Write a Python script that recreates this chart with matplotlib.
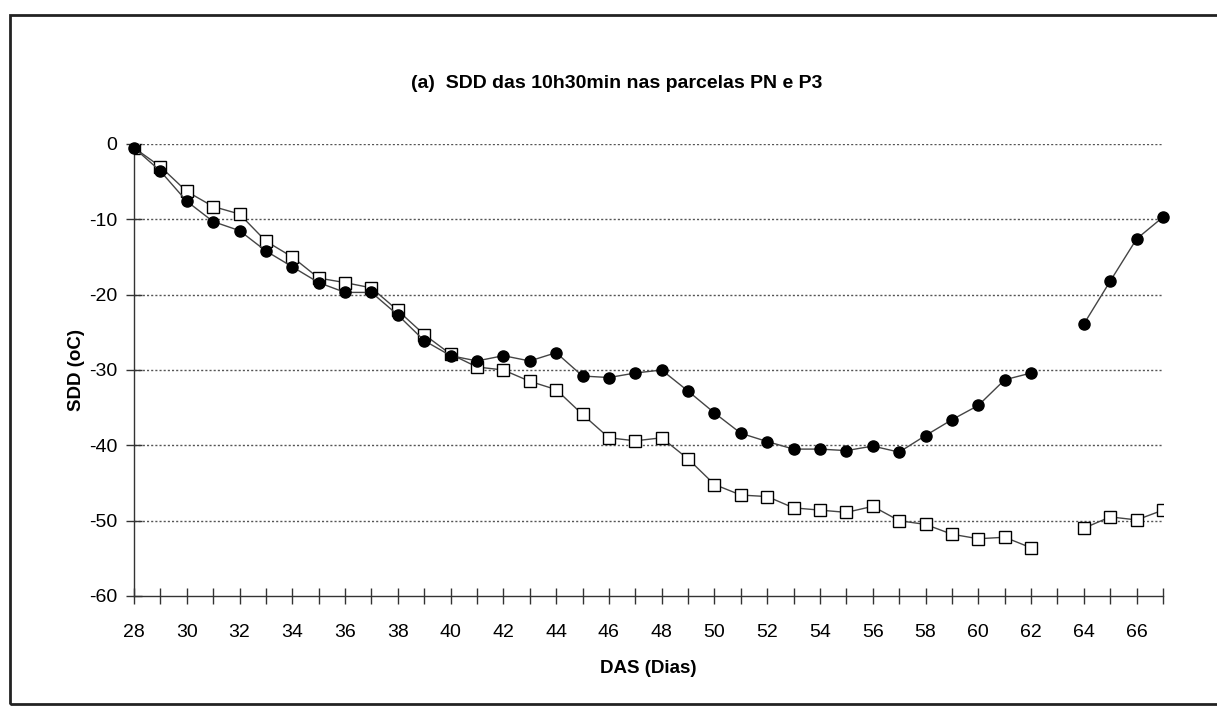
import numpy as np
import matplotlib
matplotlib.use("Agg")
import matplotlib.pyplot as plt
from matplotlib.patches import Rectangle
from matplotlib.ticker import MultipleLocator

plt.rcParams['font.family'] = ['Liberation Sans', 'DejaVu Sans']
plt.rcParams['axes.unicode_minus'] = False

days = list(range(28, 68))
# PN (filled circles); None = missing
pn = [-0.5, -3.6, -7.6, -10.3, -11.5, -14.2, -16.3, -18.4, -19.7, -19.7,
      -22.7, -26.1, -28.1, -28.8, -28.1, -28.8, -27.7, -30.8, -31.0, -30.4,
      -30.0, -32.8, -35.7, -38.4, -39.5, -40.5, -40.5, -40.7, -40.1, -40.9,
      -38.7, -36.6, -34.7, -31.3, -30.4, None, -23.9, -18.2, -12.6, -9.7]
# P3 (open squares)
p3 = [-0.5, -3.0, -6.3, -8.3, -9.3, -12.9, -15.0, -17.8, -18.4, -19.1,
      -22.1, -25.3, -27.9, -29.6, -30.0, -31.5, -32.6, -35.9, -39.0, -39.4,
      -39.0, -41.8, -45.2, -46.6, -46.8, -48.3, -48.6, -48.9, -48.1, -50.0,
      -50.5, -51.8, -52.4, -52.2, -53.6, None, -51.0, -49.5, -49.9, -48.6]

title = "(a)  SDD das 10h30min nas parcelas PN e P3"
xlabel = "DAS (Dias)"
ylabel = "SDD (oC)"

def to_arr(v):
    return np.array([np.nan if x is None else x for x in v], dtype=float)

fig = plt.figure(figsize=(12.17, 7.06), dpi=100)
ax = fig.add_axes([134/1217, 1-596/706, (1163-134)/1217, (596-144)/706])

ax.plot(days, to_arr(p3), color='#444444', lw=1.0, marker='s', ms=8.5,
        mfc='white', mec='black', mew=1.0, zorder=3)
ax.plot(days, to_arr(pn), color='#444444', lw=1.0, marker='o', ms=8,
        mfc='black', mec='black', zorder=4, clip_on=False)

ax.set_xlim(28, 67)
ax.set_ylim(-60, 0)
ax.set_xticks(range(28, 67, 2))
ax.set_xticklabels([str(d) for d in range(28, 67, 2)])
ax.xaxis.set_minor_locator(MultipleLocator(1))
ax.yaxis.set_major_locator(MultipleLocator(10))

for s in ['top', 'right']:
    ax.spines[s].set_visible(False)
for s in ['left', 'bottom']:
    ax.spines[s].set_color('#333333')
    ax.spines[s].set_linewidth(1.0)

ax.tick_params(axis='x', which='both', direction='inout', length=12, width=1,
               color='#333333', labelsize=14, pad=14)
ax.tick_params(axis='y', which='major', direction='inout', length=12, width=1,
               color='#333333', labelsize=14, pad=6)

for yv in range(-50, 1, 10):
    ax.axhline(yv, color='#555555', lw=1.0, ls=(0, (1.5, 1.5)), zorder=1)

ax.set_xlabel(xlabel, fontsize=13.5, fontweight='bold', labelpad=14)
ax.set_ylabel(ylabel, fontsize=13.5, fontweight='bold', labelpad=3)
fig.text(617/1217, 1-83/706, title, fontsize=14, fontweight='bold',
         ha='center', va='center')

fig.patches.append(Rectangle((10/1217, 1-704/706), 1.2, (704-15)/706,
                             transform=fig.transFigure, fill=False,
                             edgecolor='#222222', lw=2, zorder=0))

fig.savefig("out.png", dpi=100, facecolor='white')
